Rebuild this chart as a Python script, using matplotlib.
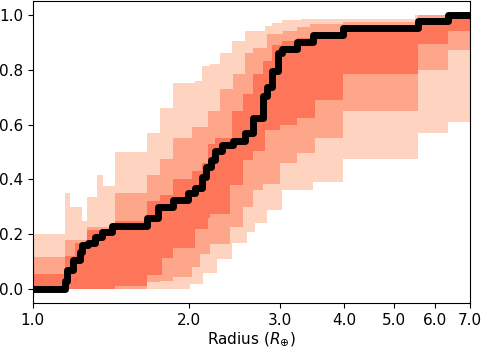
import numpy as np
import matplotlib
matplotlib.use('Agg')
import matplotlib.pyplot as plt

plt.rcParams['font.size'] = 11

# ---- data (radius breakpoints, step values) ----
# black CDF
cdf_r = [1.0, 1.153, 1.163, 1.195, 1.233, 1.244, 1.277, 1.318, 1.360, 1.422,
         1.661, 1.745, 1.865, 1.994, 2.057, 2.122, 2.160, 2.210, 2.249, 2.320,
         2.437, 2.570, 2.664, 2.785, 2.835, 2.899, 2.977, 3.031, 3.240, 3.479,
         3.977, 5.553, 6.348, 7.0]
cdf_v = [0.0, 0.03, 0.07, 0.105, 0.135, 0.16, 0.17, 0.19, 0.207, 0.232,
         0.26, 0.30, 0.324, 0.35, 0.37, 0.41, 0.445, 0.47, 0.505, 0.525,
         0.54, 0.57, 0.625, 0.705, 0.735, 0.795, 0.86, 0.875, 0.90, 0.927,
         0.953, 0.978, 1.0, 1.0]

# outer (light) band
light_hi_r = [1.0, 1.153, 1.179, 1.244, 1.272, 1.330, 1.366, 1.441, 1.661, 1.760,
              1.865, 2.057, 2.122, 2.20, 2.30, 2.426, 2.570, 2.81, 2.90, 3.03,
              3.30, 5.48]
light_hi_v = [0.20, 0.35, 0.30, 0.25, 0.335, 0.415, 0.375, 0.50, 0.57, 0.66,
              0.75, 0.76, 0.815, 0.82, 0.86, 0.905, 0.94, 0.96, 0.97, 0.98,
              0.985, 1.0]
light_lo_r = [1.0, 2.012, 2.132, 2.269, 2.426, 2.593, 2.687, 2.835, 3.031, 3.479,
              3.977, 5.553, 6.348]
light_lo_v = [0.0, 0.02, 0.06, 0.11, 0.17, 0.21, 0.24, 0.29, 0.36, 0.39,
              0.475, 0.57, 0.61]

# middle band
mid_hi_r = [1.0, 1.153, 1.272, 1.441, 1.661, 1.760, 1.865, 2.030, 2.180, 2.300,
            2.437, 2.570, 2.664, 2.835, 3.044, 3.24, 3.433, 3.977, 5.553]
mid_hi_v = [0.117, 0.178, 0.225, 0.35, 0.415, 0.475, 0.55, 0.59, 0.65, 0.73,
            0.785, 0.86, 0.88, 0.93, 0.94, 0.955, 0.967, 0.975, 1.0]
mid_lo_r = [1.0, 1.661, 1.760, 1.865, 2.030, 2.104, 2.199, 2.404, 2.547, 2.664,
            2.785, 3.004, 3.240, 3.510, 3.977, 5.553, 6.348]
mid_lo_v = [0.0, 0.025, 0.03, 0.044, 0.08, 0.13, 0.165, 0.225, 0.30, 0.36,
            0.385, 0.46, 0.495, 0.55, 0.65, 0.80, 0.87]

# inner (dark) band
dark_hi_r = [1.0, 1.153, 1.206, 1.272, 1.441, 1.661, 1.760, 1.865, 2.030, 2.122,
             2.180, 2.249, 2.426, 2.547, 2.664, 2.785, 2.899, 3.031, 3.24, 3.479,
             3.977, 5.553, 6.348]
dark_hi_v = [0.057, 0.12, 0.17, 0.215, 0.25, 0.32, 0.345, 0.40, 0.43, 0.46,
             0.53, 0.55, 0.65, 0.71, 0.785, 0.83, 0.89, 0.905, 0.915, 0.935,
             0.96, 0.985, 1.0]
dark_lo_r = [1.0, 1.441, 1.661, 1.776, 1.865, 2.057, 2.180, 2.20, 2.404, 2.547,
             2.664, 2.810, 3.004, 3.240, 3.510, 3.977, 5.553, 6.348]
dark_lo_v = [0.0, 0.01, 0.05, 0.115, 0.15, 0.22, 0.26, 0.275, 0.38, 0.47,
             0.505, 0.58, 0.60, 0.625, 0.69, 0.785, 0.895, 0.94]


def step_at(edges, vals, x):
    idx = np.searchsorted(edges, x, side='right') - 1
    return np.asarray(vals)[idx]


fig = plt.figure(figsize=(4.82, 3.49), dpi=100)
ax = fig.add_axes([0.068, 0.132, 0.907, 0.865])

bands = [(light_lo_r, light_lo_v, light_hi_r, light_hi_v, '#fed3bf'),
         (mid_lo_r, mid_lo_v, mid_hi_r, mid_hi_v, '#fda68a'),
         (dark_lo_r, dark_lo_v, dark_hi_r, dark_hi_v, '#fe7659')]
for lo_r, lo_v, hi_r, hi_v, col in bands:
    grid = np.unique(np.concatenate([lo_r, hi_r, [7.0]]))
    lo = step_at(lo_r, lo_v, grid)
    hi = step_at(hi_r, hi_v, grid)
    ax.fill_between(grid, lo, hi, step='post', color=col, lw=0)

ax.step(cdf_r, cdf_v, where='post', color='black', lw=5,
        solid_joinstyle='round', solid_capstyle='round')

ax.set_xscale('log')
ax.set_xlim(1.0, 7.0)
ax.set_ylim(-0.05, 1.05)
xt = [1, 2, 3, 4, 5, 6, 7]
ax.set_xticks(xt)
ax.set_xticklabels(['%.1f' % t for t in xt])
ax.xaxis.set_minor_locator(matplotlib.ticker.NullLocator())
ax.set_yticks([0.0, 0.2, 0.4, 0.6, 0.8, 1.0])
ax.set_xlabel(r'Radius ($R_{\oplus}$)', labelpad=2)

fig.savefig('out.png', dpi=100)
